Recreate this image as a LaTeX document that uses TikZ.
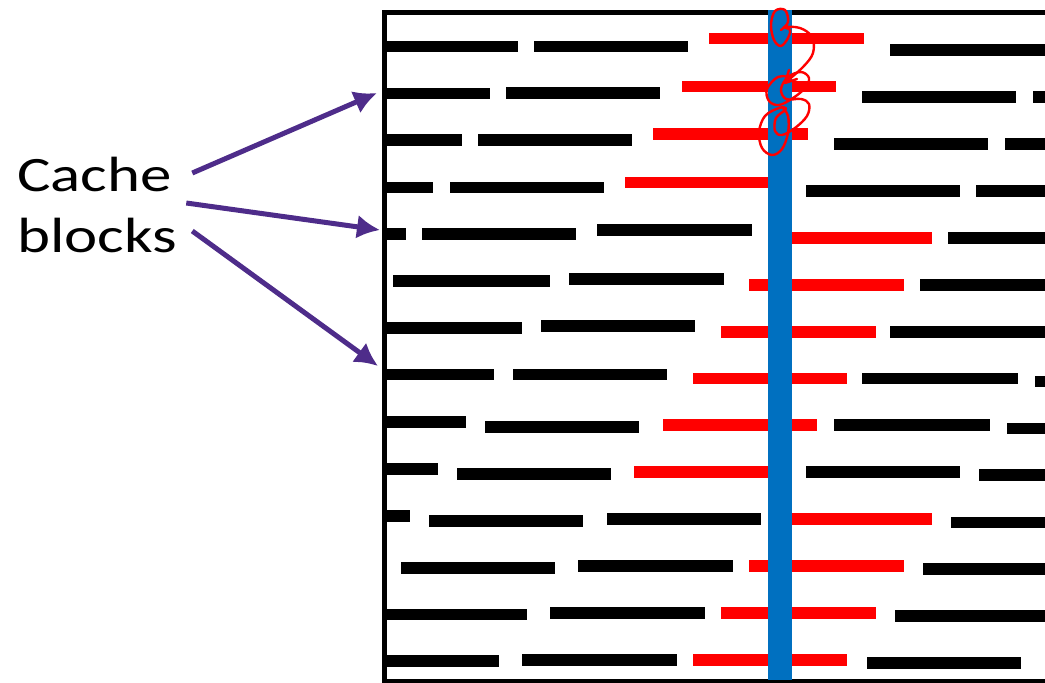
\documentclass[tikz,border=0pt]{standalone}
\usepackage{fontspec}
\setmainfont{Carlito}
\usetikzlibrary{arrows.meta}

\definecolor{colblue}{RGB}{0,112,192}
\definecolor{ptrpurple}{RGB}{78,44,138}

\begin{document}
\begin{tikzpicture}[x=1pt,y=-1pt,
    blk/.style={draw=black,line width=11.7pt},
    hot/.style={draw=red,line width=11.7pt},
    ptr/.style={draw=ptrpurple,line width=5pt,-{Latex[length=23pt,width=24pt]}},
    ink/.style={draw=red,line width=2.4pt,line cap=round,line join=round}]
  \useasboundingbox (0,0) rectangle (1045,683);

  % memory lines, black blocks (x1/x2/y)
  \foreach \a/\b/\y in {
      386/518/46.5, 534/688/46.5, 890/1045/50,
      386/490/93.5, 506/660/93.3, 862/1016/97, 1033/1045/97,
      386/462/140, 478/632/140, 834/988/144, 1005/1045/144,
      386/433/187.5, 450/604/187.5, 806/960/191, 976/1045/191,
      386/406/234, 422/576/234, 597/752/230, 948/1045/238,
      393/550/281, 569/724/279, 920/1045/285,
      386/522/328, 541/695/326, 890/1045/332,
      386/494/374.5, 513/667/374.5, 862/1018/378.5, 1035/1045/381.5,
      386/466/422, 485/639/427, 834/990/425, 1007/1045/428.5,
      386/438/469, 457/611/474, 806/960/472, 979/1045/475,
      386/410/516, 429/583/520.7, 607/761/519, 951/1045/522.5,
      401/555/567.7, 578/733/566, 923/1045/569,
      386/527/614.5, 550/705/612.7, 895/1045/616,
      386/499/661.3, 522/677/659.7, 867/1021/663}
    \path[blk] (\a,\y) -- (\b,\y);

  % blocks hit by the column walk
  \foreach \a/\b/\y in {
      709/864/38.5, 682/836/86.5, 653/808/134.3, 625/780/182.5,
      778/932/238, 749/904/285, 721/876/332, 693/847/378.5,
      663/817/425, 634/788/472, 778/932/519, 749/904/566,
      721/876/612.7, 693/847/659.7}
    \path[hot] (\a,\y) -- (\b,\y);

  % frame
  \draw[line width=5pt] (1045,12) -- (384.2,12) -- (384.2,681.5) -- (1045,681.5);

  % the column being read
  \fill[colblue] (767.7,9.5) rectangle (791.7,680);

  % hand-drawn trail down the column
  \draw[ink] plot[smooth,tension=0.6] coordinates {
      (781,30) (788,22) (785,10) (775,11) (771,25) (774,40) (781,46)
      (788,38) (790,30) (784,27) (800,28) (812,37) (813,53) (803,67) (787,81)};
  \draw[ink] (789,70) -- (785,83) -- (797,79);
  \draw[ink] plot[smooth,tension=0.6] coordinates {
      (792,77) (778,77) (767,89) (769,101) (779,105) (793,98) (805,88)
      (809,78) (801,72) (788,77) (781,89) (786,99) (801,99) (809,104)
      (807,116) (795,128) (782,135) (775,131) (776,118) (786,109)
      (779,108) (765,116) (759,132) (762,148) (772,155) (782,149)
      (788,133) (788,116) (782,107)};

  % label and pointers
  \node[font=\fontsize{49.5pt}{61pt}\selectfont,align=left,inner sep=0pt,
        anchor=west,transform shape,xscale=1.27]
    (cb) at (17,205) {Cache\\blocks};
  \coordinate (t1) at (377,93);
  \coordinate (t2) at (380,230);
  \coordinate (t3) at (378,366);
  \draw[ptr] ([xshift=15pt,yshift=32pt]cb.east) -- (t1);
  \draw[ptr] ([xshift=9pt,yshift=2pt]cb.east) -- (t2);
  \draw[ptr] ([xshift=15pt,yshift=-26pt]cb.east) -- (t3);
\end{tikzpicture}
\end{document}
